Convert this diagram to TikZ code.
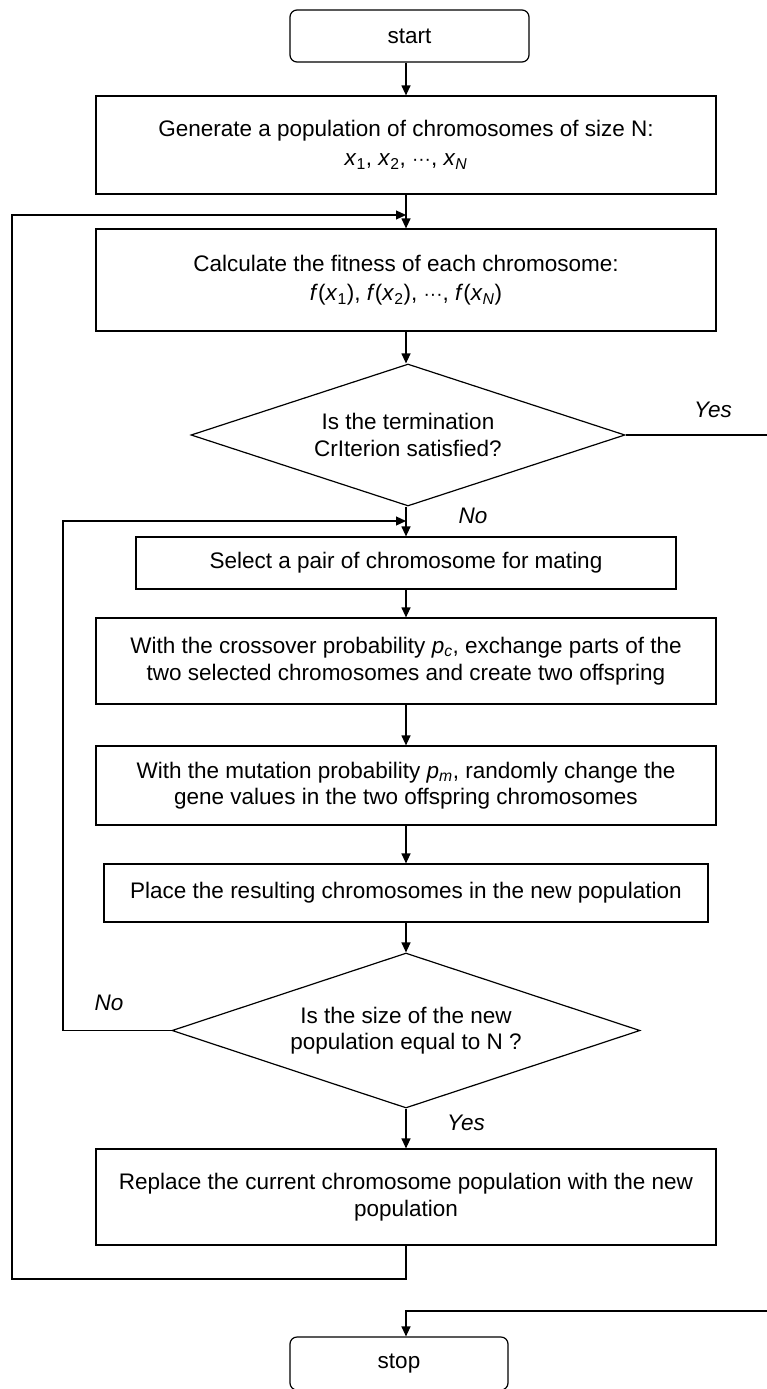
\documentclass[tikz,border=0pt]{standalone}
\usepackage{fontspec}
\setmainfont{Liberation Sans}
\usetikzlibrary{arrows.meta,shapes.geometric}
\begin{document}
\begin{tikzpicture}[x=1pt,y=-1pt,
  every node/.style={font=\fontsize{22.5}{26.5}\selectfont, text=black},
  line/.style={draw=black, line width=1.2pt},
  arr/.style={line, -{Triangle[length=10pt,width=9pt]}},
  procbox/.style={line, rectangle, align=center, inner sep=0pt},
  termbox/.style={line, rectangle, rounded corners=7pt, align=center, inner sep=0pt},
  decbox/.style={line, diamond, align=center, inner sep=0pt, shape aspect=3},
  lbl/.style={font=\fontsize{22.5}{26.5}\selectfont\itshape}
]
\useasboundingbox (0,0) rectangle (766,1389);

\node[termbox, minimum width=239pt, minimum height=52pt] (start) at (409.5,36) {start};
\node[procbox, minimum width=620pt, minimum height=98pt] (b1) at (406,145)
  {Generate a population of chromosomes of size N:\\[3pt]
   \textit{x}\textsubscript{1}, \textit{x}\textsubscript{2}, {\fontsize{19}{19}\selectfont ···}, \textit{x}\textsubscript{\textit{N}}};
\node[procbox, minimum width=620pt, minimum height=102pt] (b2) at (406,280)
  {Calculate the fitness of each chromosome:\\[3pt]
   \textit{f}(\textit{x}\textsubscript{1}), \textit{f}(\textit{x}\textsubscript{2}), {\fontsize{19}{19}\selectfont ···}, \textit{f}(\textit{x}\textsubscript{\textit{N}})};
\node[decbox, minimum width=434pt, minimum height=142pt] (d1) at (408,435)
  {Is the termination\\CrIterion satisfied?};
\node[procbox, minimum width=540pt, minimum height=52pt] (b3) at (406,563)
  {Select a pair of chromosome for mating};
\node[procbox, minimum width=620pt, minimum height=86pt] (b4) at (406,661)
  {With the crossover probability \textit{p\textsubscript{c}}, exchange parts of the\\
   two selected chromosomes and create two offspring};
\node[procbox, minimum width=620pt, minimum height=79pt] (b5) at (406,785.5)
  {With the mutation probability \textit{p\textsubscript{m}}, randomly change the\\
   gene values in the two offspring chromosomes};
\node[procbox, minimum width=604pt, minimum height=58pt] (b6) at (406,893)
  {Place the resulting chromosomes in the new population};
\node[decbox, minimum width=468pt, minimum height=155pt] (d2) at (406,1030.5)
  {Is the size of the new\\population equal to N ?};
\node[procbox, minimum width=620pt, minimum height=96pt] (b7) at (406,1197)
  {Replace the current chromosome population with the new\\population};
\node[termbox, minimum width=218pt, minimum height=53pt] (stop) at (399,1363.5) {stop};

% helper coordinates
\coordinate (m12) at (406,215);
\coordinate (m3) at (406,521);
\coordinate (lb) at (12,1279);
\coordinate (il) at (63,1030.5);
\coordinate (yc) at (770,1311);

% main flow
\draw[arr] (start.south -| b1.north) -- (b1.north);
\draw[arr] (b1.south) -- (b2.north);
\draw[arr] (b2.south) -- (d1.north -| b2.south);
\draw[arr] (d1.south -| b3.north) -- (b3.north);
\draw[arr] (b3.south) -- (b4.north);
\draw[arr] (b4.south) -- (b5.north);
\draw[arr] (b5.south) -- (b6.north);
\draw[arr] (b6.south) -- (d2.north);
\draw[arr] (d2.south) -- (b7.north);

% outer loop
\draw[arr] (b7.south) |- (lb) |- (m12);
% inner loop (No)
\draw[arr] (d2.west) -- (il) |- (m3);
% Yes to stop
\draw[arr] (d1.east) -- (d1.east -| yc) -- (yc) -- (yc -| b7.south) -- (b7.south |- stop.north);

% labels
\node[lbl] (yes1) at (713,410) {Yes};
\node[lbl] (no1) at (473,516) {No};
\node[lbl] (no2) at (109,1003) {No};
\node[lbl] (yes2) at (466,1123) {Yes};
\end{tikzpicture}
\end{document}
